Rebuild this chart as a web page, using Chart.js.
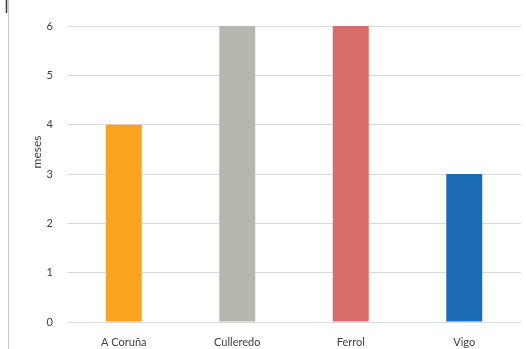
<!DOCTYPE html>
<html><head><meta charset="utf-8">
<script src="https://cdn.jsdelivr.net/npm/chart.js@4/dist/chart.umd.min.js"></script>
<style>html,body{margin:0;padding:0;background:#fff}#wrap{width:526px;height:349px}</style>
</head><body><div id="wrap"><canvas id="c" width="526" height="349"></canvas></div>
<script>
const categories = ["A Coruña", "Culleredo", "Ferrol", "Vigo"];
const values = [4, 6, 6, 3];
const barColors = ["#F9A31E", "#B6B6AF", "#D76D69", "#1B6CB5"];
const yTicks = [0, 1, 2, 3, 4, 5, 6];
const yTitle = "meses";

const decor = {
  id: 'decor',
  afterDraw(chart) {
    const ctx = chart.ctx;
    ctx.save();
    ctx.strokeStyle = '#c8c8c8';
    ctx.lineWidth = 1;
    ctx.beginPath(); ctx.moveTo(8.5, 0); ctx.lineTo(8.5, 349); ctx.stroke();
    ctx.strokeStyle = '#333';
    ctx.lineWidth = 1.5;
    ctx.beginPath(); ctx.moveTo(6.5, 0); ctx.lineTo(6.5, 13); ctx.stroke();
    ctx.fillStyle = '#404040';
    ctx.font = '12px Lato';
    ctx.translate(37, 152);
    ctx.rotate(-Math.PI / 2);
    ctx.textAlign = 'center';
    ctx.textBaseline = 'middle';
    ctx.fillText(yTitle, 0, 0);
    ctx.restore();
  }
};

new Chart(document.getElementById('c'), {
  type: 'bar',
  data: {
    labels: categories,
    datasets: [{ data: values, backgroundColor: barColors, borderWidth: 0,
      categoryPercentage: 1, barPercentage: 0.317 }]
  },
  options: {
    responsive: false, animation: false,
    layout: { padding: { left: 10, right: 5, top: 26, bottom: 0 } },
    plugins: { legend: { display: false }, tooltip: { enabled: false } },
    scales: {
      x: {
        grid: { display: false }, border: { display: false },
        ticks: { color: '#404040', font: { family: 'Lato', size: 11 }, padding: 6 },
        afterFit(s) { s.height = 27; }
      },
      y: {
        min: 0, max: 6,
        afterBuildTicks(s) { s.ticks = yTicks.map(v => ({ value: v })); },
        grid: { color: '#d9d9d9', drawTicks: false }, border: { display: false },
        ticks: { color: '#404040', font: { family: 'Lato', size: 11 }, padding: 14 },
        afterFit(s) { s.width = 57; }
      }
    }
  },
  plugins: [decor]
});
</script></body></html>
